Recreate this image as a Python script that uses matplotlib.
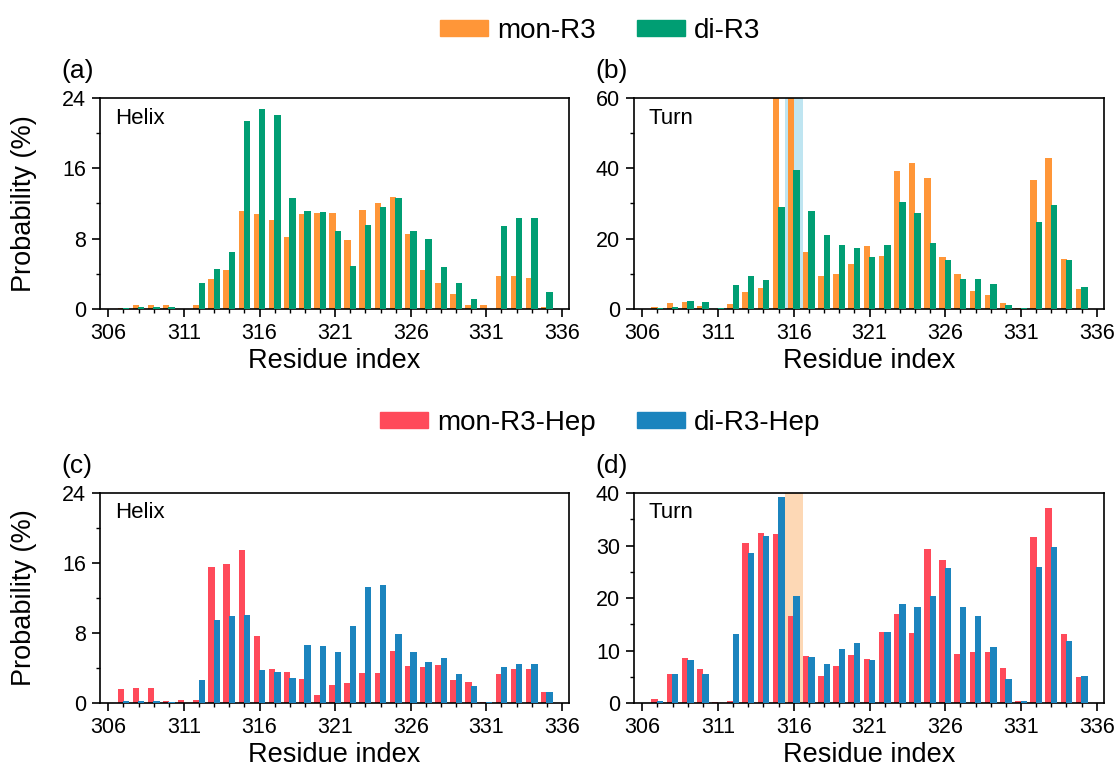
import numpy as np
import matplotlib.pyplot as plt
from matplotlib.patches import Patch
from matplotlib.ticker import MultipleLocator

plt.rcParams['font.family'] = ['Liberation Sans', 'DejaVu Sans']

residues = np.arange(306, 336)

# (a) helix, no heparin
helix_mon = [0, 0.1, 0.42, 0.42, 0.42, 0, 0.5, 3.45, 4.4, 11.2, 10.8, 10.1, 8.2, 10.8, 10.9,
             10.9, 7.9, 11.3, 12.1, 12.7, 8.5, 4.4, 3.0, 1.7, 0.42, 0.4, 3.7, 3.8, 3.5, 0.23]
helix_di = [0, 0.1, 0.2, 0.2, 0.2, 0, 2.95, 4.5, 6.5, 21.4, 22.8, 22.05, 12.6, 11.2, 11.06,
            8.9, 4.85, 9.6, 11.55, 12.6, 8.9, 8.0, 4.8, 2.9, 1.1, 0, 9.4, 10.4, 10.4, 1.9]

# (b) turn, no heparin (bars at 315/316 run off the top)
turn_mon = [0, 0.6, 1.6, 2.0, 0.95, 0, 1.5, 4.7, 5.9, 62, 62, 16.1, 9.5, 9.9, 12.7,
            18.0, 15.1, 39.1, 41.4, 37.2, 14.9, 9.9, 5.0, 4.1, 1.6, 0.4, 36.7, 43.0, 14.1, 5.6]
turn_di = [0, 0.3, 0.6, 2.3, 1.9, 0.2, 6.9, 9.3, 8.3, 29.0, 39.4, 27.9, 20.9, 18.2, 17.2,
           14.7, 18.3, 30.4, 27.4, 18.9, 13.8, 8.4, 8.4, 7.0, 1.1, 0.2, 24.7, 29.6, 13.8, 6.2]

# (c) helix, with heparin
helix_mon_hep = [0, 1.64, 1.75, 1.75, 0.27, 0.34, 0.34, 15.5, 15.9, 17.5, 7.7, 3.9, 3.5, 2.7, 0.9,
                 2.1, 2.25, 3.4, 3.4, 5.9, 4.2, 4.1, 4.3, 2.6, 2.4, 0.1, 3.3, 3.85, 3.85, 1.26]
helix_di_hep = [0, 0.27, 0.27, 0.27, 0.1, 0, 2.6, 9.45, 10.0, 10.1, 3.8, 3.6, 2.9, 6.6, 6.5,
                5.8, 8.76, 13.3, 13.5, 7.85, 5.8, 4.7, 5.2, 3.35, 1.95, 0.1, 4.15, 4.5, 4.5, 1.26]

# (d) turn, with heparin
turn_mon_hep = [0, 0.83, 5.5, 8.6, 6.4, 0.25, 0.44, 30.5, 32.3, 32.1, 16.5, 8.9, 5.1, 7.1, 9.2,
                8.3, 13.5, 17.0, 13.3, 29.4, 27.2, 9.3, 9.65, 9.8, 6.7, 0.3, 31.6, 37.1, 13.2, 5.0]
turn_di_hep = [0, 0.3, 5.6, 8.1, 5.6, 0, 13.2, 28.6, 31.8, 39.2, 20.4, 8.7, 7.5, 10.3, 11.5,
               8.1, 13.5, 18.9, 18.3, 20.3, 25.8, 18.2, 16.5, 10.7, 4.6, 0.3, 25.9, 29.8, 11.9, 5.1]

c_orange = '#FF9638'
c_green = '#009E73'
c_red = '#FF4A5A'
c_blue = '#1B84BE'

fig = plt.figure(figsize=(11.2, 7.69), dpi=100)


def panel(rect, mon, di, c1, c2, ymax, ystep, name, letter, ylabel, span=None):
    ax = fig.add_axes(rect)
    if span is not None:
        ax.axvspan(315.45, 316.6, color=span, lw=0, zorder=0)
    ax.bar(residues - 0.18, mon, width=0.42, color=c1, zorder=2)
    ax.bar(residues + 0.18, di, width=0.42, color=c2, zorder=3)
    ax.set_xlim(305.45, 336.47)
    ax.set_ylim(0, ymax)
    ax.set_xticks(np.arange(306, 337, 5))
    ax.xaxis.set_minor_locator(MultipleLocator(1))
    ax.yaxis.set_major_locator(MultipleLocator(ystep))
    ax.yaxis.set_minor_locator(MultipleLocator(ystep / 2))
    ax.tick_params(which='major', direction='out', length=6, width=1.2, labelsize=15.5, pad=4)
    ax.tick_params(which='minor', direction='out', length=3, width=1.0)
    for s in ax.spines.values():
        s.set_linewidth(1.2)
    ax.set_xlabel('Residue index', fontsize=19.5, labelpad=3)
    if ylabel:
        ax.set_ylabel('Probability (%)', fontsize=19.5)
        ax.yaxis.set_label_coords(-0.135, 0.5)
    ax.text(0.032, 0.905, name, transform=ax.transAxes, fontsize=16, va='center', ha='left')
    ax.text(-0.082, 1.13, letter, transform=ax.transAxes, fontsize=19, va='center', ha='left')
    return ax


panel([0.0893, 0.5982, 0.4188, 0.2744], helix_mon, helix_di, c_orange, c_green, 24, 8, 'Helix', '(a)', True)
panel([0.566, 0.5982, 0.4196, 0.2744], turn_mon, turn_di, c_orange, c_green, 60, 20, 'Turn', '(b)', False,
      span='#BFE5F1')
panel([0.0893, 0.0858, 0.4188, 0.2731], helix_mon_hep, helix_di_hep, c_red, c_blue, 24, 8, 'Helix', '(c)', True)
panel([0.566, 0.0858, 0.4196, 0.2731], turn_mon_hep, turn_di_hep, c_red, c_blue, 40, 10, 'Turn', '(d)', False,
      span='#FDD8B5')

leg_kw = dict(loc='center', ncol=2, frameon=False, fontsize=20, handlelength=1.73, handleheight=0.47,
              handletextpad=0.32, columnspacing=1.5, borderpad=0)
fig.legend(handles=[Patch(color=c_orange, label='mon-R3'), Patch(color=c_green, label='di-R3')],
           bbox_to_anchor=(0.536, 1 - 31 / 769), **leg_kw)
fig.legend(handles=[Patch(color=c_red, label='mon-R3-Hep'), Patch(color=c_blue, label='di-R3-Hep')],
           bbox_to_anchor=(0.536, 1 - 423 / 769), **leg_kw)

fig.savefig('out.png', dpi=100)
